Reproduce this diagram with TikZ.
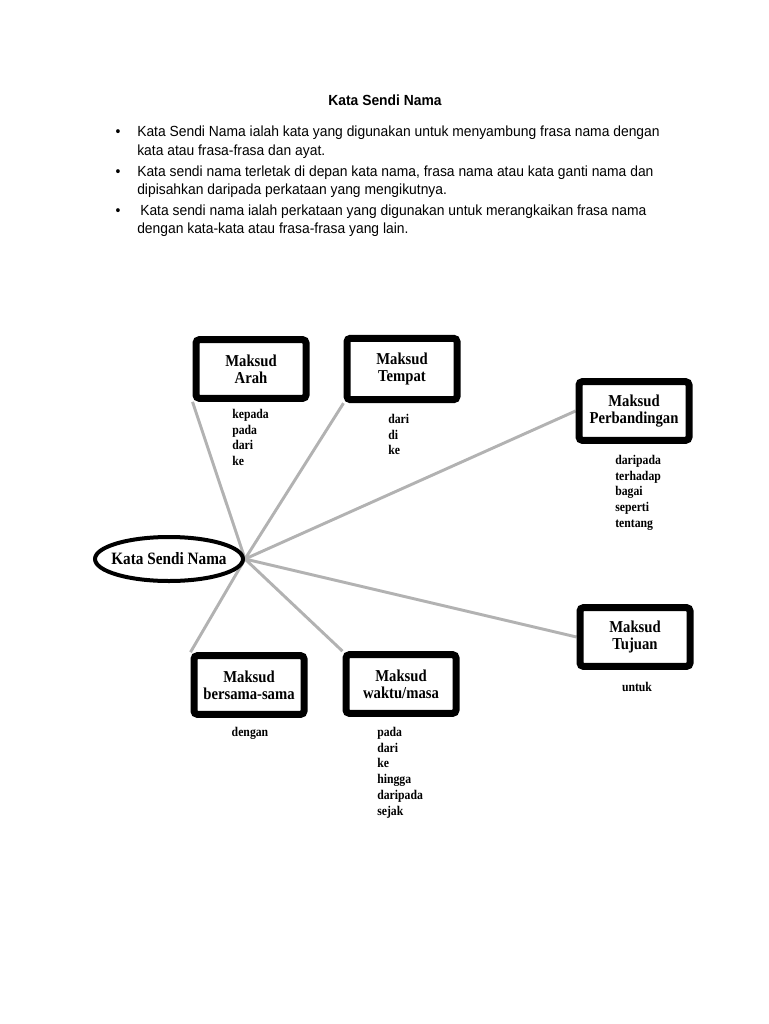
\documentclass[tikz,border=0pt]{standalone}
\usepackage{fontspec}
\setmainfont{Liberation Serif}
\newfontfamily\arialfont[FakeStretch=0.945]{Liberation Sans}
\newfontfamily\boxfont[FakeStretch=0.88]{Liberation Serif}
\usetikzlibrary{shapes.geometric,backgrounds}

\begin{document}
\begin{tikzpicture}[
  x=0.75pt, y=-0.75pt,
  para/.style={anchor=base west, inner sep=0pt, font=\arialfont\fontsize{11}{13}\selectfont},
  dot/.style={anchor=base, inner sep=0pt, font=\arialfont\fontsize{11}{13}\selectfont},
  maksud/.style={draw, line width=5.25pt, rounded corners=2.5pt, fill=white,
    minimum width=82.5pt, minimum height=44pt, inner sep=0pt, align=center,
    font=\boxfont\bfseries\fontsize{12.5}{13}\selectfont},
  words/.style={anchor=north west, inner sep=0pt, align=left,
    font=\boxfont\bfseries\fontsize{10}{11.8}\selectfont},
  edge/.style={draw=black!30, line width=2.2pt}
]
  \useasboundingbox (0,0) rectangle (768,1024);

  \node[dot, font=\arialfont\bfseries\fontsize{11}{13}\selectfont] (title) at (385,105) {Kata Sendi Nama};

  \node[dot] (b1) at (118,137) {•};
  \node[para] (p1a) at (137,137) {Kata Sendi Nama ialah kata yang digunakan untuk menyambung frasa nama dengan};
  \node[para] (p1b) at (137,155) {kata atau frasa-frasa dan ayat.};
  \node[dot] (b2) at (118,176) {•};
  \node[para] (p2a) at (137,176) {Kata sendi nama terletak di depan kata nama, frasa nama atau kata ganti nama dan};
  \node[para] (p2b) at (137,194) {dipisahkan daripada perkataan yang mengikutnya.};
  \node[dot] (b3) at (118,215) {•};
  \node[para] (p3a) at (140,215) {Kata sendi nama ialah perkataan yang digunakan untuk merangkaikan frasa nama};
  \node[para] (p3b) at (137,233) {dengan kata-kata atau frasa-frasa yang lain.};

  \node[ellipse, draw, line width=3pt, minimum width=111pt, minimum height=33pt,
    inner xsep=-7.5pt, inner ysep=0pt,
    font=\boxfont\bfseries\fontsize{13}{13}\selectfont] (ksn) at (169,559) {Kata Sendi Nama};

  \node[maksud] (arah) at (251,369) {Maksud\\Arah};
  \node[maksud, minimum height=46pt] (tempat) at (402,369) {Maksud\\Tempat};
  \node[maksud] (banding) at (634,411) {Maksud\\Perbandingan};
  \node[maksud] (tujuan) at (635,637) {Maksud\\Tujuan};
  \node[maksud] (bersama) at (249,685) {Maksud\\bersama-sama};
  \node[maksud] (waktu) at (401,684) {Maksud\\waktu/masa};

  \begin{pgfonlayer}{background}
    \draw[edge] (ksn.east) -- (arah.south west);
    \draw[edge] (ksn.east) -- (tempat.south west);
    \draw[edge] (ksn.east) -- (banding.west);
    \draw[edge] (ksn.east) -- (tujuan.west);
    \draw[edge] (ksn.east) -- (bersama.north west);
    \draw[edge] (ksn.east) -- (waktu.north west);
  \end{pgfonlayer}

  \node[words] (warah) at (232,409) {kepada\\pada\\dari\\ke};
  \node[words] (wtempat) at (388,414) {dari\\di\\ke};
  \node[words] (wbanding) at (615,455) {daripada\\terhadap\\bagai\\seperti\\tentang};
  \node[words, anchor=north] (wtujuan) at (637,682) {untuk};
  \node[words, anchor=north] (wbersama) at (250,727) {dengan};
  \node[words] (wwaktu) at (377,727) {pada\\dari\\ke\\hingga\\daripada\\sejak};
\end{tikzpicture}
\end{document}
